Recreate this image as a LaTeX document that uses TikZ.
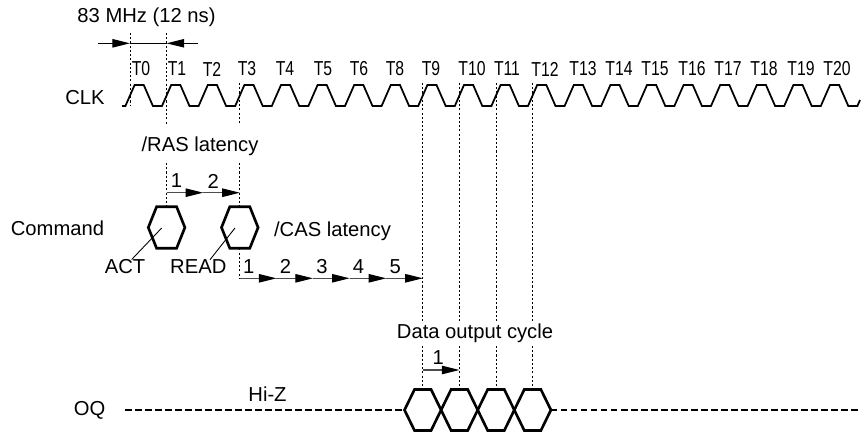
\documentclass[tikz,border=0pt]{standalone}
\usepackage{graphicx}
\usepackage{fontspec}
\setmainfont{Liberation Sans}
\usetikzlibrary{positioning,arrows.meta}

\newcommand{\tnarrow}[1]{\scalebox{0.78}[1]{#1}}

\begin{document}
\begin{tikzpicture}[
  x=0.02cm, y=-0.02cm,
  txt/.style={inner sep=0pt, font=\fontsize{11.5}{13.8}\selectfont},
  guide/.style={line width=0.5pt, dash pattern=on 1.2pt off 1.2pt},
  clock/.style={line width=1pt},
  cmd/.style={line width=1.5pt, line join=miter},
  hiz/.style={line width=1.3pt, dash pattern=on 3.7pt off 2pt},
  lead/.style={line width=0.5pt},
  lat/.style={-{Triangle[length=10pt,width=4.8pt,black]}, line width=0.6pt, draw=black!70},
  span/.style={-{Triangle[length=10pt,width=4.8pt]}, line width=0.6pt},
]
\useasboundingbox (0,0) rectangle (866,439);

% clock
\node[txt] (clk) at (85,97.5) {CLK};
\draw[clock] (122,106) -- (125.4,106)
  \foreach \k in {0,...,19} {
    -- ({125.4+36.6*\k},106) -- ({134.6+36.6*\k},85)
    -- ({143.75+36.6*\k},85) -- ({152.9+36.6*\k},106)
  } -- (857.4,106) -- (860,100);
\foreach \t/\x in {0/141,1/177,2/212,3/247,4/285,5/323,6/359,8/395,9/431,10/472,
                   11/507,12/545,13/583,14/619,15/655,16/692,17/728,18/764,19/801,20/837}
  \node[txt] (lt\t) at (\x,69) {\tnarrow{T\t}};

% period
\node[txt] (freq) at (146.5,17.5) {83 MHz (12 ns)};
\coordinate (pa) at (98,43.3);
\coordinate (pb) at (130,43.3);
\coordinate (pc) at (166.6,43.3);
\coordinate (pd) at (198,43.3);
\draw[span] (pa) -- (pb);
\draw[line width=0.6pt] (pb) -- (pc);
\draw[span] (pd) -- (pc);

% guides
\draw[guide] (130,33) -- (130,106);
\draw[guide] (166.6,33) -- (166.6,125) (166.6,163) -- (166.6,206.7);
\draw[guide] (239.8,83) -- (239.8,125) (239.8,163) -- (239.8,206.7)
             (239.8,248.3) -- (239.8,279);
\foreach \x in {422.8,459.4,496,532.6}
  \draw[guide] (\x,83) -- (\x,321) (\x,346) -- (\x,389.5);

% command
\node[txt] (ras) at (200,146) {/RAS latency};
\node[txt] (cmdlab) at (57.5,228) {Command};
\node[txt] (cas) at (332.5,231) {/CAS latency};
\coordinate (act) at (166.6,227.5);
\coordinate (read) at (239.8,227.5);
\foreach \h in {act,read}
  \draw[cmd] (\h) ++(-10,-20.8) -- ++(20,0) -- ++(8.3,20.8) -- ++(-8.3,20.8)
    -- ++(-20,0) -- ++(-8.3,-20.8) -- cycle;
\node[txt] (actlab) at (125,267) {ACT};
\node[txt] (readlab) at (198.3,267) {READ};
\coordinate (actin) at (161.7,228);
\coordinate (readin) at (235,228);
\draw[lead] ([xshift=6.7*0.02cm]actlab.north) -- (actin);
\draw[lead] ([xshift=11.7*0.02cm]readlab.north) -- (readin);

\coordinate (r0) at (166.6,192.7);
\coordinate (r1) at (203.2,192.7);
\coordinate (r2) at (239.8,192.7);
\draw[lat] (r0) -- (r1);
\draw[lat] (r1) -- (r2);
\node[txt] (rn1) at (176.6,181) {1};
\node[txt] (rn2) at (213.2,181) {2};

\foreach \k in {0,...,5}
  \coordinate (c\k) at ({239.8+36.6*\k},278.3);
\foreach \k [evaluate=\k as \n using int(\k+1)] in {0,...,4} {
  \draw[lat] (c\k) -- (c\n);
  \node[txt] (cn\n) at ({248.8+36.6*\k},266.7) {\n};
}

% data out
\node[txt] (dcyc) at (475,333) {Data output cycle};
\coordinate (d0) at (422.8,370);
\coordinate (d1) at (459.4,370);
\draw[lat] (d0) -- (d1);
\node[txt] (dn1) at (438.3,357.5) {1};
\node[txt] (oq) at (89.5,410.5) {OQ};
\node[txt] (hiz) at (267.5,394.5) {Hi-Z};
\foreach \i in {0,...,3}
  \draw[cmd] ({404.5+36.6*\i},410) -- ++(10,-20.5) -- ++(16.6,0) -- ++(10,20.5)
    -- ++(-10,20.5) -- ++(-16.6,0) -- cycle;
\coordinate (zl0) at (125,410);
\coordinate (zl1) at (404.5,410);
\coordinate (zr0) at (550.9,410);
\coordinate (zr1) at (860,410);
\draw[hiz] (zl0) -- (zl1);
\draw[hiz] (zr0) -- (zr1);
\end{tikzpicture}
\end{document}
